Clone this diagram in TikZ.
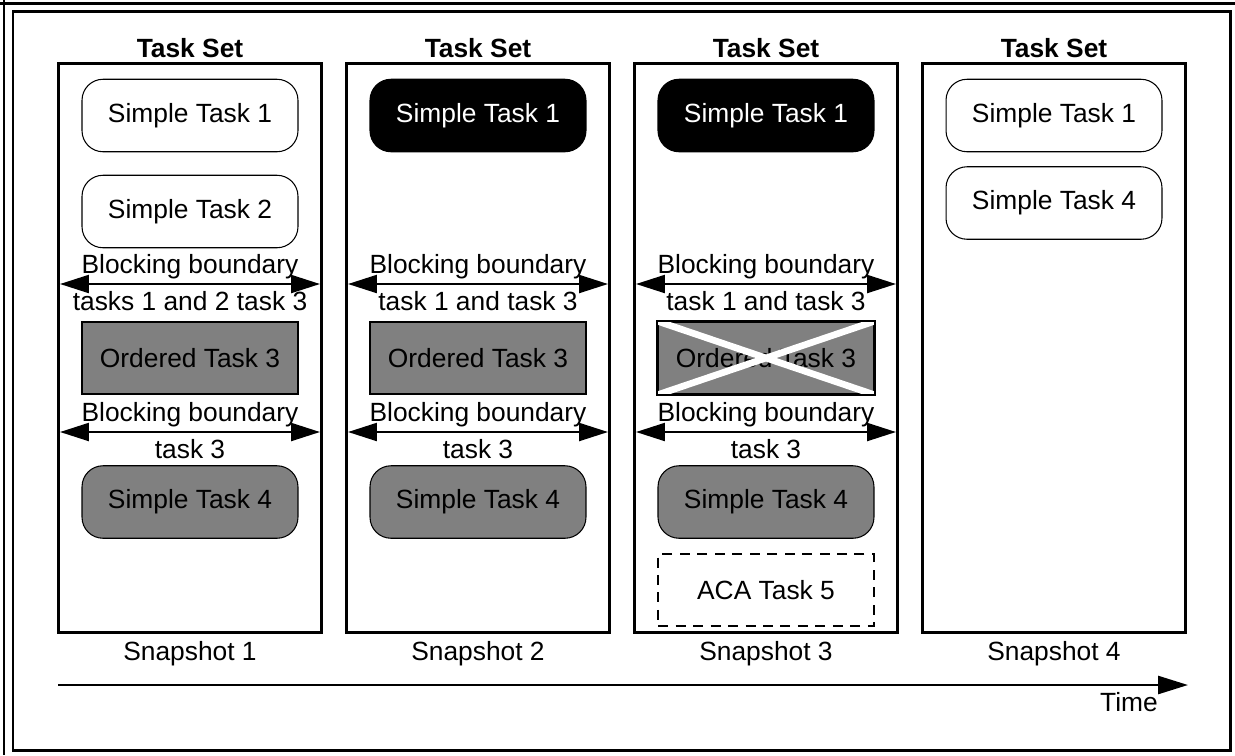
\documentclass[tikz,border=0pt]{standalone}
\usepackage{fontspec}
\setmainfont{Liberation Sans}
\usetikzlibrary{arrows.meta,positioning}
\newcommand{\tsk}{\fontsize{15}{17}\selectfont}

\begin{document}
\begin{tikzpicture}[
  x=0.02cm, y=-0.02cm,
  font=\tsk,
  setbox/.style={draw, line width=1.7pt, minimum width=5.28cm, minimum height=11.4cm, inner sep=0pt},
  simple/.style={draw, line width=0.6pt, rounded corners=0.42cm, minimum width=4.32cm, minimum height=1.45cm, fill=white},
  done/.style={simple, fill=black, text=white},
  busy/.style={simple, fill=black!50},
  ordered/.style={draw, line width=1.1pt, minimum width=4.32cm, minimum height=1.44cm, fill=black!50},
  aca/.style={draw, dash pattern=on 0.2cm off 0.15cm, line width=1.1pt, minimum width=4.32cm, minimum height=1.44cm},
  arr/.style={{Triangle[length=0.58cm, width=0.36cm]}-{Triangle[length=0.58cm, width=0.36cm]}, line width=1.3pt},
  tarr/.style={-{Triangle[length=0.6cm, width=0.36cm]}, line width=1.5pt},
  outerline/.style={line width=1.7pt},
]
\useasboundingbox (0,0) rectangle (1235,755);

% frame
\draw[outerline] (0,3) -- (1235,3);
\draw[outerline] (4,0) -- (4,755);
\draw[outerline] (13,11) rectangle (1230,750);

% task sets, one per snapshot
\foreach \i in {1,...,4}{
  \pgfmathsetmacro\cx{190+288*(\i-1)}
  \node[setbox] (snap\i) at (\cx,348) {};
  \node[font=\tsk\bfseries, anchor=base] (title\i) at (\cx,57) {Task Set};
  \node[anchor=base] (lab\i) at (\cx,660) {Snapshot \i};
}

% snapshot 1
\node[simple] (s1a) at (190,115.5) {Simple Task 1};
\node[simple] (s2a) at (190,211.5) {Simple Task 2};
\node[ordered] (o3a) at (190,358) {Ordered Task 3};
\node[busy] (s4a) at (190,502) {Simple Task 4};

% snapshot 2
\node[done] (s1b) at (478,115.5) {Simple Task 1};
\node[ordered] (o3b) at (478,358) {Ordered Task 3};
\node[busy] (s4b) at (478,502) {Simple Task 4};

% snapshot 3
\node[done] (s1c) at (766,115.5) {Simple Task 1};
\node[ordered] (o3c) at (766,358) {Ordered Task 3};
\node[busy] (s4c) at (766,502) {Simple Task 4};
\node[aca] (a5c) at (766,590) {ACA Task 5};

\begin{scope}
  \clip (o3c.north west) rectangle (o3c.south east);
  \draw[white, line width=3.8pt] (o3c.north west) -- (o3c.south east)
    (o3c.south west) -- (o3c.north east);
\end{scope}
\draw[line width=1.1pt] (o3c.north west) rectangle (o3c.south east);

% snapshot 4
\node[simple] (s1d) at (1054,115.5) {Simple Task 1};
\node[simple] (s4d) at (1054,203) {Simple Task 4};

% blocking boundaries
\foreach \i/\who in {1/{tasks 1 and 2 task 3}, 2/{task 1 and task 3}, 3/{task 1 and task 3}}{
  \pgfmathsetmacro\cx{190+288*(\i-1)}
  \pgfmathsetmacro\lx{60+288*(\i-1)}
  \coordinate (bla\i) at (\lx,284);
  \coordinate (bra\i) at (\lx+260,284);
  \coordinate (blb\i) at (\lx,432);
  \coordinate (brb\i) at (\lx+260,432);
  \draw[arr] (bla\i) -- (bra\i);
  \draw[arr] (blb\i) -- (brb\i);
  \node[anchor=base] (bta\i) at (\cx,273) {Blocking boundary};
  \node[anchor=base] (bba\i) at (\cx,310) {\who};
  \node[anchor=base] (btb\i) at (\cx,421) {Blocking boundary};
  \node[anchor=base] (bbb\i) at (\cx,458) {task 3};
}

% time axis
\coordinate (t0) at (58,685);
\coordinate (t1) at (1188,685);
\draw[tarr] (t0) -- (t1);
\node[anchor=base] (time) at (1129,711) {Time};
\end{tikzpicture}
\end{document}
